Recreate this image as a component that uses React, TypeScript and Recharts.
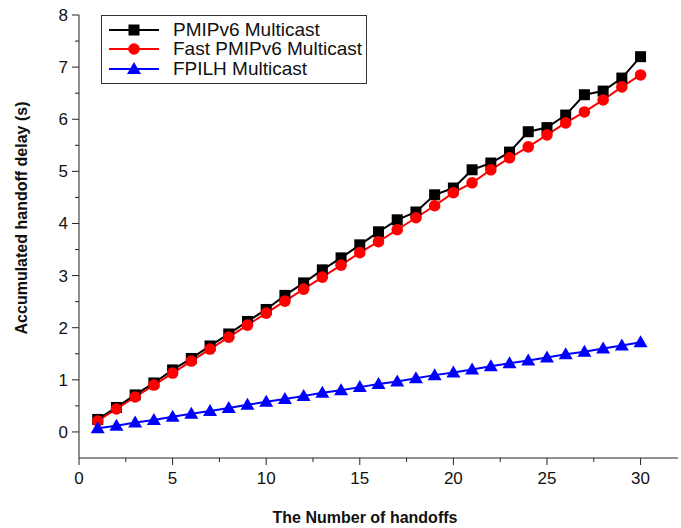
import React from "react";
import { LineChart, Line, XAxis, YAxis } from "recharts";

const handoffs = [1,2,3,4,5,6,7,8,9,10,11,12,13,14,15,16,17,18,19,20,21,22,23,24,25,26,27,28,29,30];
const pmipv6 = [0.24,0.47,0.71,0.94,1.19,1.41,1.65,1.88,2.12,2.35,2.62,2.86,3.11,3.34,3.59,3.84,4.07,4.22,4.55,4.68,5.03,5.16,5.37,5.76,5.84,6.08,6.47,6.54,6.79,7.2];
const fastPmipv6 = [0.21,0.44,0.67,0.9,1.13,1.36,1.59,1.82,2.05,2.28,2.51,2.74,2.97,3.2,3.44,3.65,3.88,4.11,4.34,4.59,4.78,5.03,5.26,5.47,5.7,5.93,6.14,6.37,6.62,6.85];
const fpilh = [0.07,0.12,0.18,0.23,0.29,0.35,0.4,0.46,0.52,0.58,0.63,0.69,0.75,0.8,0.86,0.92,0.97,1.03,1.09,1.14,1.2,1.26,1.32,1.37,1.43,1.49,1.54,1.6,1.66,1.72];
const xTicks = [0,2.5,5,7.5,10,12.5,15,17.5,20,22.5,25,27.5,30];
const yTicks = [0,0.5,1,1.5,2,2.5,3,3.5,4,4.5,5,5.5,6,6.5,7,7.5,8];
const seriesNames = ["PMIPv6 Multicast", "Fast PMIPv6 Multicast", "FPILH Multicast"];

const data = handoffs.map((h, i) => ({ x: h, a: pmipv6[i], b: fastPmipv6[i], c: fpilh[i] }));

const FONT = "'Liberation Sans', Arial, sans-serif";
const AXIS = "#222";

const Square = (p: any) => {
  if (p.cx == null) return null;
  return <rect key={p.key} x={p.cx - 5.5} y={p.cy - 5.5} width={11} height={11} fill="#000" />;
};
const Circle = (p: any) => {
  if (p.cx == null) return null;
  return <circle key={p.key} cx={p.cx} cy={p.cy} r={5.8} fill="#ff0000" />;
};
const Tri = (p: any) => {
  if (p.cx == null) return null;
  return <polygon key={p.key} points={`${p.cx},${p.cy - 7} ${p.cx - 7},${p.cy + 5} ${p.cx + 7},${p.cy + 5}`} fill="#0000ff" />;
};

const YTick = (p: any) => {
  const v = p.payload.value;
  const major = Number.isInteger(v);
  return (
    <g>
      <line x1={p.x - (major ? 7 : 4)} x2={p.x} y1={p.y} y2={p.y} stroke={AXIS} strokeWidth={1} />
      {major && (
        <text x={p.x - 11} y={p.y} dy={6} textAnchor="end" fontSize={17} fontFamily={FONT} fill="#111">
          {v}
        </text>
      )}
    </g>
  );
};

const XTick = (p: any) => {
  const v = p.payload.value;
  const major = Number.isInteger(v);
  return (
    <g>
      <line x1={p.x} x2={p.x} y1={p.y} y2={p.y + (major ? 7 : 4)} stroke={AXIS} strokeWidth={1} />
      {major && (
        <text x={p.x} y={p.y + 26} textAnchor="middle" fontSize={17} fontFamily={FONT} fill="#111">
          {v}
        </text>
      )}
    </g>
  );
};

const LegendRow = ({ color, marker, label, top }: any) => (
  <div style={{ position: "absolute", left: 0, top, height: 20, display: "flex", alignItems: "center" }}>
    <svg width={65} height={20} style={{ marginLeft: 6 }}>
      <line x1={1} x2={51} y1={10} y2={10} stroke={color} strokeWidth={2} />
      {marker === "square" && <rect x={20.5} y={4.5} width={11} height={11} fill={color} />}
      {marker === "circle" && <circle cx={26} cy={10} r={5.8} fill={color} />}
      {marker === "tri" && <polygon points="26,3 19,15 33,15" fill={color} />}
    </svg>
    <span style={{ fontFamily: FONT, fontSize: 19, color: "#111", whiteSpace: "nowrap" }}>{label}</span>
  </div>
);

export default function App() {
  return (
    <div style={{ position: "absolute", left: 0, top: 0, width: 681, height: 528, background: "#fff" }}>
      <LineChart width={681} height={528} data={data} margin={{ top: 15, right: 3, bottom: 0, left: 0 }}>
        <XAxis
          dataKey="x"
          type="number"
          domain={[0, 32]}
          ticks={xTicks}
          allowDataOverflow
          height={70}
          stroke={AXIS}
          tickLine={false}
          tickSize={0}
          tickMargin={0}
          tick={<XTick />}
          interval={0}
          label={(props: any) => (
            <text x={365} y={523} textAnchor="middle" fontSize={16} fontWeight="bold" fontFamily={FONT} fill="#111">
              The Number of handoffs
            </text>
          )}
        />
        <YAxis
          type="number"
          domain={[-0.5, 8]}
          ticks={yTicks}
          allowDataOverflow
          width={79}
          stroke={AXIS}
          tickLine={false}
          tickSize={0}
          tickMargin={0}
          tick={<YTick />}
          interval={0}
          label={(props: any) => (
            <text
              x={27}
              y={218}
              transform="rotate(-90 27 218)"
              textAnchor="middle"
              fontSize={16}
              fontWeight="bold"
              fontFamily={FONT}
              fill="#111"
            >
              Accumulated handoff delay (s)
            </text>
          )}
        />
        <Line type="linear" dataKey="a" stroke="#000" strokeWidth={2} dot={<Square />} isAnimationActive={false} />
        <Line type="linear" dataKey="b" stroke="#ff0000" strokeWidth={2} dot={<Circle />} isAnimationActive={false} />
        <Line type="linear" dataKey="c" stroke="#0000ff" strokeWidth={2} dot={<Tri />} isAnimationActive={false} />
      </LineChart>
      <div
        style={{
          position: "absolute",
          left: 101,
          top: 15,
          width: 264,
          height: 67,
          border: "1px solid #333",
          background: "#fff",
        }}
      >
        <LegendRow color="#000" marker="square" label={seriesNames[0]} top={4} />
        <LegendRow color="#ff0000" marker="circle" label={seriesNames[1]} top={23} />
        <LegendRow color="#0000ff" marker="tri" label={seriesNames[2]} top={43} />
      </div>
    </div>
  );
}
